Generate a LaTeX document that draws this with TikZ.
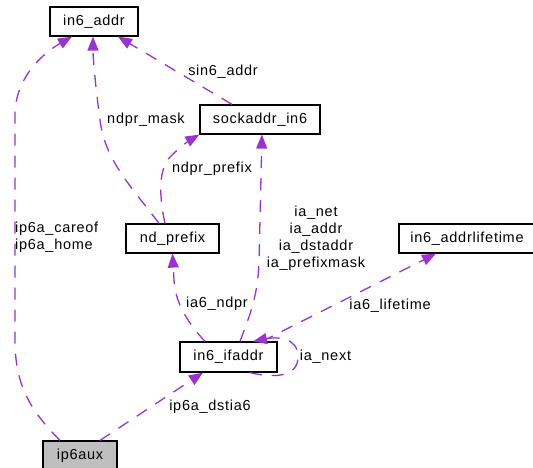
\documentclass[tikz,border=0pt]{standalone}
\usepackage{fontspec}
\setmainfont{Liberation Sans}[LetterSpace=5]
\usetikzlibrary{arrows.meta,calc}
\definecolor{edgec}{HTML}{9A32CD}
\definecolor{auxfill}{HTML}{BFBFBF}
\begin{document}
\begin{tikzpicture}[x=1pt,y=-1pt,
  cls/.style={draw=black, line width=1.2pt, fill=white, minimum height=29pt, inner sep=0pt, font=\fontsize{14.5}{17}\selectfont},
  rel/.style={draw=edgec, line width=1.3pt, dash pattern=on 12pt off 10pt, -{Triangle[length=14pt,width=11pt,fill=edgec]}},
  lab/.style={font=\fontsize{14.5}{17}\selectfont, text=black, inner sep=0pt}]
\useasboundingbox (0,0) rectangle (533,468);
% nodes
\node[cls, minimum width=88pt]  (addr) at (94,21.5)   {in6\_addr};
\node[cls, minimum width=120pt] (sock) at (260,119.5) {sockaddr\_in6};
\node[cls, minimum width=93pt]  (ndp)  at (172.5,238.5) {nd\_prefix};
\node[cls, minimum width=136pt] (life) at (467,238.5) {in6\_addrlifetime};
\node[cls, minimum width=97pt, minimum height=30pt] (ifa) at (228.5,357) {in6\_ifaddr};
\node[cls, minimum width=74pt, fill=auxfill] (aux) at (80,455.5) {ip6aux};
% edges
\draw[rel] ([xshift=-20pt]aux.north) .. controls (30,410) and (15,385) .. (15,340) -- (15,115) .. controls (15,80) and (40,55) .. ([xshift=-22pt]addr.south);
\draw[rel] ([xshift=-13.5pt]ndp.north) .. controls (130,185) and (105,160) .. (100,120) .. controls (96,90) and (93,60) .. ([xshift=-1pt]addr.south);
\draw[rel] ([xshift=-28pt]sock.north) -- ([xshift=24pt]addr.south);
\draw[rel] ([xshift=-7.5pt]ndp.north) .. controls (160,200) and (157,172) .. (170,157) .. controls (180,147) and (190,140) .. (sock.south west);
\draw[rel] ([xshift=11.5pt]ifa.north) .. controls (250,315) and (258,295) .. (259,262) -- ([xshift=2pt]sock.south);
\draw[rel] ([xshift=-23.5pt]ifa.north) .. controls (185,320) and (175,300) .. (174,280) -- (ndp.south);
\draw[rel] ([xshift=33.5pt]ifa.north) -- ([xshift=-31pt]life.south);
\draw[rel] ([xshift=21.5pt]ifa.south) .. controls (272,378) and (298,378) .. (298,357) .. controls (298,336) and (275,337) .. ([xshift=24.5pt]ifa.north);
\draw[rel] ([xshift=20pt]aux.north) -- ([xshift=-25.5pt]ifa.south);
% labels
\node[lab] (l1) at (223,72) {sin6\_addr};
\node[lab] (l2) at (146,120) {ndpr\_mask};
\node[lab] (l3) at (212,169) {ndpr\_prefix};
\node[lab, align=center] (l4) at (316,238.5) {ia\_net\\ia\_addr\\ia\_dstaddr\\ia\_prefixmask};
\node[lab] (l5) at (390,306) {ia6\_lifetime};
\node[lab] (l6) at (217,304) {ia6\_ndpr};
\node[lab] (l7) at (325.5,357) {ia\_next};
\node[lab] (l8) at (210,407) {ip6a\_dstia6};
\node[lab, align=left, anchor=west] (l9) at (15,237) {ip6a\_careof\\ip6a\_home};
\end{tikzpicture}
\end{document}
